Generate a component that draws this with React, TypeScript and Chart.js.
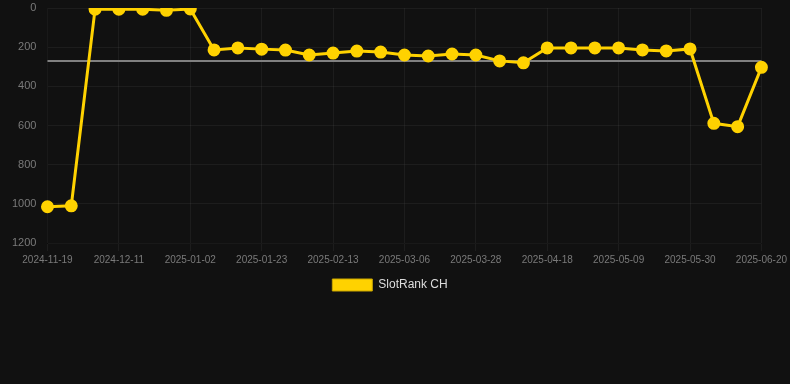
import React, { useEffect, useRef } from "react";
import { Chart, registerables } from "chart.js";

Chart.register(...registerables);

const dates = [
  "2024-11-19", "2024-11-26", "2024-12-04", "2024-12-11", "2024-12-18", "2024-12-25",
  "2025-01-02", "2025-01-09", "2025-01-16", "2025-01-23", "2025-01-30", "2025-02-06",
  "2025-02-13", "2025-02-20", "2025-02-27", "2025-03-06", "2025-03-13", "2025-03-20",
  "2025-03-28", "2025-04-04", "2025-04-11", "2025-04-18", "2025-04-25", "2025-05-02",
  "2025-05-09", "2025-05-16", "2025-05-23", "2025-05-30", "2025-06-06", "2025-06-13",
  "2025-06-20",
];

const slotRankCH = [
  1015, 1010, 6, 6, 6, 12, 5, 214, 204, 210, 215, 240, 230, 220, 225, 240, 245, 235,
  240, 270, 280, 204, 204, 204, 204, 214, 219, 209, 589, 606, 303,
];

const averageRank = 271;

const FONT = "'Liberation Sans', Arial, sans-serif";

export default function App() {
  const ref = useRef<HTMLCanvasElement | null>(null);

  useEffect(() => {
    if (!ref.current) return;
    const chart = new Chart(ref.current, {
      type: "line",
      data: {
        labels: dates,
        datasets: [
          {
            label: "SlotRank CH",
            data: slotRankCH,
            borderColor: "#FFD200",
            backgroundColor: "#FFD200",
            borderWidth: 3,
            pointRadius: 5,
            pointBackgroundColor: "#FFD200",
            pointBorderColor: "#FFD200",
            tension: 0,
          },
          {
            label: "avg",
            data: dates.map(() => averageRank),
            borderColor: "#808080",
            backgroundColor: "#808080",
            borderWidth: 2,
            pointRadius: 0,
            tension: 0,
          },
        ],
      },
      options: {
        animation: false,
        responsive: false,
        maintainAspectRatio: false,
        layout: { padding: { left: 12, right: 22 } },
        plugins: {
          legend: {
            position: "bottom",
            labels: {
              color: "#dddddd",
              font: { size: 12, family: FONT },
              boxWidth: 40,
              boxHeight: 12,
              filter: (item) => item.text === "SlotRank CH",
              generateLabels: (c) => {
                const items = Chart.defaults.plugins.legend.labels.generateLabels(c);
                items.forEach((it) => {
                  it.lineWidth = 1;
                  it.strokeStyle = "#C9A600";
                });
                return items;
              },
            },
          },
          tooltip: { enabled: false },
        },
        scales: {
          x: {
            grid: { color: "rgba(255,255,255,0.05)" },
            ticks: {
              color: "#7a7a7a",
              font: { size: 10, family: FONT },
              maxRotation: 0,
              autoSkip: true,
            },
          },
          y: {
            reverse: true,
            min: 0,
            max: 1200,
            grid: {
              color: "rgba(255,255,255,0.05)",
              tickLength: 11,
              tickColor: "rgba(0,0,0,0)",
            },
            ticks: {
              stepSize: 200,
              padding: 0,
              color: "#7a7a7a",
              font: { size: 11, family: FONT },
              callback: (v) => String(v),
            },
          },
        },
      },
    });
    return () => chart.destroy();
  }, []);

  return (
    <div style={{ position: "fixed", left: 0, top: 0, width: 790, height: 384, background: "#111111", overflow: "hidden" }}>
      <canvas
        ref={ref}
        width={790}
        height={301}
        style={{ display: "block", position: "absolute", left: 0, top: 0 }}
      />
    </div>
  );
}
